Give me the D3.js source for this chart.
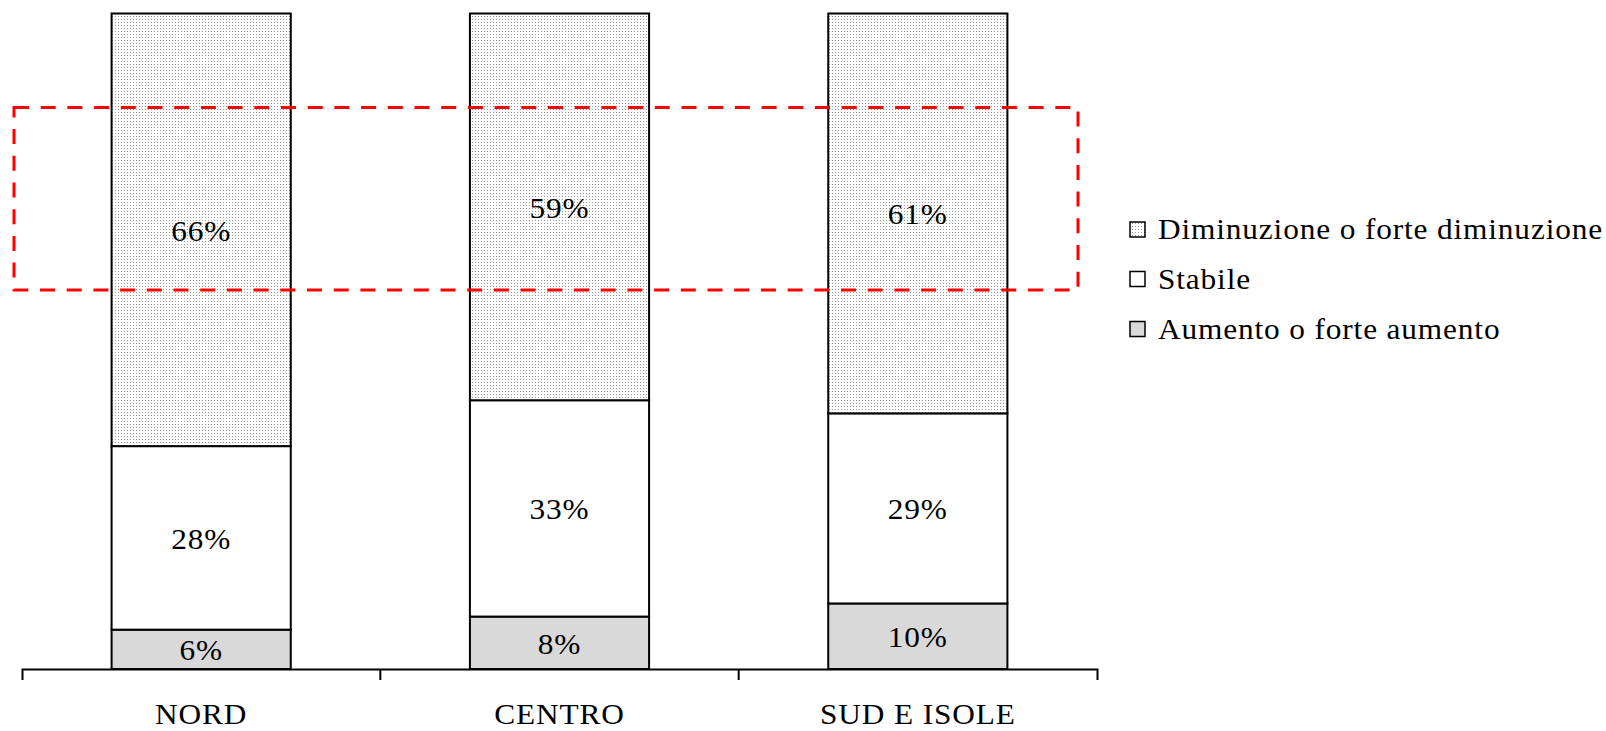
<!DOCTYPE html>
<html>
<head>
<meta charset="utf-8">
<script src="https://cdn.jsdelivr.net/npm/d3@7"></script>
<style>
  html, body { margin: 0; padding: 0; background: #fff; }
  svg { display: block; }
  text { font-family: "Liberation Serif", "Times New Roman", serif; font-size: 29px; fill: #000; letter-spacing: 0.8px; }
</style>
</head>
<body>
<svg id="chart" width="1606" height="731"></svg>
<script>
// ---- data ----
const categories = ["NORD", "CENTRO", "SUD E ISOLE"];
const seriesNames = ["Aumento o forte aumento", "Stabile", "Diminuzione o forte diminuzione"];
const aumento = [6, 8, 10];
const stabile = [28, 33, 29];
const diminuzione = [66, 59, 61];
const legendOrder = ["Diminuzione o forte diminuzione", "Stabile", "Aumento o forte aumento"];

// ---- layout ----
const svg = d3.select("#chart");
const x0 = 22, x1 = 1097, yBase = 669, yTop = 13.5;
const SX = 1.08; // horizontal stretch to mimic the wider Palatino-like face

const x = d3.scaleBand().domain(categories).range([x0, x1]).paddingInner(0.5).paddingOuter(0.25);
const y = d3.scaleLinear().domain([0, 100]).range([yBase, yTop]);

const defs = svg.append("defs");
const pat = defs.append("pattern").attr("id", "dots").attr("patternUnits", "userSpaceOnUse")
  .attr("width", 3).attr("height", 3);
pat.append("rect").attr("width", 3).attr("height", 3).attr("fill", "#ffffff");
pat.append("rect").attr("x", 1).attr("y", 1).attr("width", 1).attr("height", 1).attr("fill", "#999999");

const fills = {
  "Aumento o forte aumento": "#d9d9d9",
  "Stabile": "#ffffff",
  "Diminuzione o forte diminuzione": "url(#dots)"
};

const rows = categories.map((c, i) => ({ cat: c, "Aumento o forte aumento": aumento[i], "Stabile": stabile[i], "Diminuzione o forte diminuzione": diminuzione[i] }));
const stack = d3.stack().keys(seriesNames)(rows);

function stretchedText(sel, tx, ty, str, anchor) {
  return sel.append("text")
    .attr("transform", `translate(${tx},${ty}) scale(${SX},1)`)
    .attr("text-anchor", anchor)
    .text(str);
}

const gBars = svg.append("g");
stack.forEach(layer => {
  layer.forEach(d => {
    const cat = d.data.cat;
    gBars.append("rect")
      .attr("x", x(cat))
      .attr("y", y(d[1]))
      .attr("width", x.bandwidth())
      .attr("height", y(d[0]) - y(d[1]))
      .attr("fill", fills[layer.key])
      .attr("stroke", "#000")
      .attr("stroke-width", 2);
  });
});
stack.forEach(layer => {
  layer.forEach(d => {
    const cat = d.data.cat;
    const mid = (y(d[0]) + y(d[1])) / 2;
    stretchedText(gBars, x(cat) + x.bandwidth() / 2, mid + 11, (d[1] - d[0]) + "%", "middle");
  });
});

// ---- x axis ----
const axis = d3.axisBottom(x).tickSize(0).tickSizeOuter(11).tickPadding(0).tickFormat(() => "");
const gAxis = svg.append("g").attr("transform", `translate(0,${yBase})`).call(axis);
gAxis.select(".domain").attr("stroke", "#000").attr("stroke-width", 2).attr("fill", "none");
gAxis.selectAll(".tick line").remove();
// tick marks at the boundaries between categories
categories.slice(1).forEach(c => {
  const bnd = x(c) + x.bandwidth() / 2 - x.step() / 2;
  gAxis.append("line").attr("x1", bnd).attr("x2", bnd).attr("y1", 0).attr("y2", 11)
    .attr("stroke", "#000").attr("stroke-width", 2);
});
categories.forEach(c => {
  stretchedText(svg, x(c) + x.bandwidth() / 2, 724, c, "middle");
});

// ---- legend ----
const gLeg = svg.append("g");
const legY = [229.5, 279, 329];
legendOrder.forEach((name, i) => {
  gLeg.append("rect").attr("x", 1130).attr("y", legY[i] - 7.5).attr("width", 15).attr("height", 15)
    .attr("fill", fills[name]).attr("stroke", "#000").attr("stroke-width", 1.5);
  stretchedText(gLeg, 1158, legY[i] + 9.5, name, "start");
});

// ---- red dashed highlight box ----
svg.append("rect")
  .attr("x", 14).attr("y", 107.5).attr("width", 1078 - 14).attr("height", 290 - 107.5)
  .attr("fill", "none").attr("stroke", "#ff0000").attr("stroke-width", 3)
  .attr("stroke-dasharray", "15 11.7");
</script>
</body>
</html>
